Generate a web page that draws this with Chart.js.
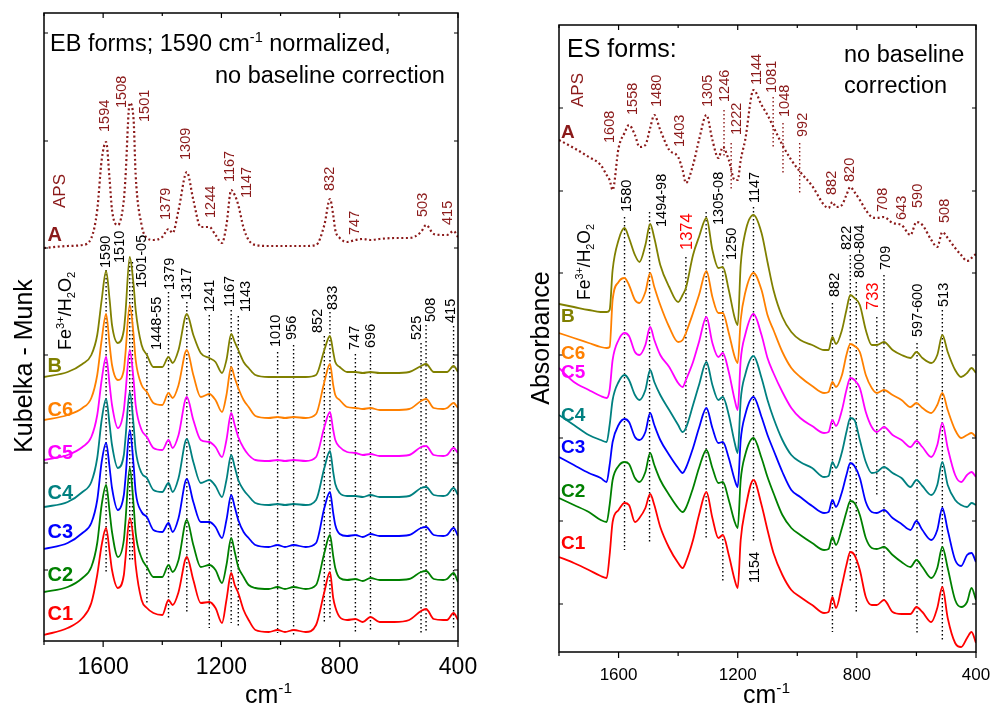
<!DOCTYPE html>
<html>
<head>
<meta charset="utf-8">
<script src="https://cdn.jsdelivr.net/npm/chart.js@4.4.1/dist/chart.umd.min.js"></script>
<style>
  html, body { margin: 0; padding: 0; background: #fff; }
  #wrap { position: relative; width: 991px; height: 706px; overflow: hidden; }
  #leftChart { position: absolute; left: 0; top: 0; }
  #rightChart { position: absolute; left: 500px; top: 0; }
</style>
</head>
<body>
<div id="wrap">
  <canvas id="leftChart" width="500" height="706"></canvas>
  <canvas id="rightChart" width="491" height="706"></canvas>
</div>
<script>
// ---- EB forms (left panel), Kubelka-Munk, curves stacked with offsets ----
const ebWn = [1800, 1720, 1670, 1640, 1620, 1605, 1590, 1578, 1570, 1550,
  1530, 1525, 1510, 1497, 1490, 1470, 1452, 1430, 1400, 1379,
  1365, 1345, 1317, 1295, 1270, 1241, 1220, 1198, 1183, 1167,
  1155, 1143, 1125, 1108, 1085, 1040, 1010, 985, 956, 915,
  880, 852, 833, 822, 815, 800, 775, 747, 722, 696,
  665, 615, 565, 525, 508, 482, 450, 437, 415, 400];
const ebA = [393, 395, 396, 403, 431, 481, 499, 461, 431, 416,
  441, 461, 538, 521, 466, 416, 403, 401, 404, 412,
  408, 431, 469, 441, 414, 414, 406, 398, 416, 451,
  446, 436, 413, 401, 396, 395, 395, 395, 395, 395,
  396, 416, 442, 426, 411, 403, 399, 401, 402, 401,
  402, 403, 403, 409, 416, 407, 406, 406, 410, 404];
const ebB = [264, 269, 277, 286, 306, 341, 370, 341, 316, 298,
  311, 326, 384, 356, 331, 296, 286, 274, 274, 284,
  278, 291, 327, 306, 288, 283, 279, 268, 281, 307,
  299, 291, 279, 273, 266, 264, 264, 264, 264, 264,
  266, 291, 305, 289, 279, 274, 269, 269, 268, 269,
  268, 268, 269, 275, 277, 269, 269, 269, 275, 269];
const ebC6 = [221, 226, 233, 243, 266, 301, 327, 296, 276, 261,
  271, 286, 336, 306, 281, 256, 249, 238, 236, 248,
  243, 256, 291, 266, 244, 247, 241, 229, 246, 274,
  263, 253, 241, 234, 225, 223, 224, 223, 224, 223,
  227, 259, 277, 256, 246, 241, 234, 233, 232, 233,
  231, 231, 232, 240, 242, 233, 232, 233, 238, 233];
const ebC5 = [181, 186, 194, 204, 226, 261, 284, 256, 236, 213,
  231, 246, 291, 261, 236, 211, 204, 193, 191, 201,
  193, 206, 244, 221, 201, 199, 194, 184, 201, 228,
  216, 204, 193, 186, 181, 180, 181, 180, 181, 180,
  184, 214, 229, 211, 201, 194, 189, 188, 186, 187,
  185, 185, 186, 194, 195, 186, 185, 186, 193, 188];
const ebC4 = [134, 139, 149, 159, 183, 221, 242, 216, 196, 173,
  186, 201, 249, 216, 191, 168, 163, 151, 149, 158,
  149, 163, 202, 179, 158, 161, 155, 144, 161, 186,
  174, 161, 151, 145, 138, 136, 137, 136, 137, 136,
  141, 173, 190, 169, 157, 148, 145, 145, 144, 146,
  144, 144, 145, 153, 154, 146, 145, 146, 153, 146];
const ebC3 = [92, 98, 108, 118, 141, 179, 198, 173, 153, 131,
  146, 161, 211, 176, 149, 129, 124, 111, 109, 118,
  109, 123, 162, 139, 119, 119, 114, 103, 121, 146,
  134, 121, 109, 103, 96, 94, 96, 94, 96, 94,
  98, 133, 149, 128, 116, 107, 105, 106, 104, 107,
  105, 105, 106, 113, 114, 106, 105, 106, 113, 105];
const ebC2 = [49, 54, 63, 74, 98, 136, 156, 129, 109, 84,
  101, 118, 173, 136, 108, 83, 74, 64, 64, 76,
  69, 81, 121, 96, 74, 76, 71, 58, 76, 103,
  89, 74, 64, 56, 53, 52, 54, 52, 54, 52,
  56, 88, 106, 85, 73, 63, 61, 62, 60, 63,
  61, 61, 62, 69, 70, 62, 61, 62, 68, 59];
const ebC1 = [6, 13, 23, 38, 66, 96, 113, 89, 71, 53,
  66, 81, 123, 101, 76, 41, 33, 28, 26, 41,
  36, 49, 84, 61, 38, 39, 33, 18, 41, 68,
  56, 48, 31, 21, 11, 9, 11, 9, 11, 9,
  16, 49, 69, 43, 34, 24, 21, 22, 19, 24,
  19, 19, 21, 30, 32, 22, 21, 21, 28, 21];
const ebYTicks = [71, 178, 286, 393, 500, 608];
// dotted band markers: position, top and bottom of each line
const ebMarkWn = [1590, 1510, 1501, 1452, 1379, 1317, 1241, 1167, 1143, 1010, 956, 852, 833, 747, 696, 525, 508, 415];
const ebMarkTop = [371, 379, 379, 288, 349, 339, 326, 331, 325, 289, 296, 305, 329, 287, 289, 298, 316, 315];
const ebMarkBottom = [69, 81, 81, 38, 23, 28, 13, 18, 14, 8, 4, 18, 21, 9, 9, 8, 8, 11];

// ---- ES forms (right panel), absorbance ----
const esWn = [1800, 1750, 1700, 1660, 1640, 1630, 1620, 1600, 1580, 1565,
  1545, 1530, 1510, 1494, 1480, 1460, 1430, 1400, 1385, 1374,
  1350, 1330, 1305, 1285, 1265, 1250, 1230, 1210, 1200, 1190,
  1175, 1147, 1120, 1100, 1080, 1050, 1020, 990, 950, 910,
  895, 882, 870, 850, 835, 822, 808, 790, 770, 750,
  733, 709, 680, 650, 620, 600, 580, 550, 530, 513,
  495, 470, 450, 430, 415, 400];
const esA = [512, 504, 495, 487, 477, 472, 462, 504, 519, 527,
  517, 505, 507, 524, 537, 522, 502, 495, 482, 469,
  487, 512, 537, 512, 494, 505, 492, 472, 472, 492,
  512, 562, 547, 537, 525, 507, 492, 480, 466, 447,
  444, 450, 445, 447, 457, 465, 460, 452, 442, 435,
  434, 435, 429, 427, 417, 430, 427, 412, 405, 420,
  414, 404, 397, 391, 394, 398];
const esB = [348, 345, 342, 340, 340, 342, 382, 412, 424, 414,
  397, 390, 407, 428, 414, 387, 365, 350, 357, 364,
  397, 415, 434, 402, 384, 385, 362, 334, 327, 387,
  419, 437, 419, 390, 362, 335, 320, 312, 307, 302,
  302, 315, 308, 322, 342, 357, 354, 347, 322, 307,
  307, 310, 302, 297, 294, 300, 294, 289, 297, 317,
  300, 282, 275, 279, 284, 279];
const esC6 = [319, 314, 309, 305, 304, 305, 352, 370, 374, 367,
  352, 349, 360, 379, 365, 347, 325, 310, 312, 319,
  339, 357, 381, 355, 339, 339, 319, 295, 289, 332,
  359, 379, 362, 337, 322, 300, 284, 275, 266, 259,
  260, 270, 265, 277, 297, 308, 306, 300, 277, 264,
  259, 262, 257, 252, 245, 249, 244, 239, 247, 259,
  242, 222, 214, 217, 219, 215];
const esC5 = [284, 270, 262, 256, 254, 262, 292, 312, 319, 316,
  300, 297, 307, 325, 312, 297, 285, 269, 265, 272,
  290, 310, 335, 309, 295, 299, 280, 252, 242, 292,
  317, 338, 317, 294, 279, 260, 244, 234, 226, 219,
  220, 232, 226, 242, 262, 274, 272, 264, 240, 225,
  220, 225, 217, 212, 205, 211, 205, 195, 207, 229,
  204, 177, 170, 177, 180, 175];
const esC4 = [237, 227, 217, 212, 210, 227, 252, 270, 277, 272,
  257, 252, 262, 282, 270, 257, 242, 227, 220, 224,
  247, 267, 290, 267, 252, 255, 237, 209, 199, 252,
  277, 296, 274, 252, 234, 212, 197, 190, 184, 175,
  176, 190, 184, 200, 220, 234, 232, 212, 190, 179,
  180, 185, 179, 174, 165, 172, 166, 157, 167, 190,
  167, 152, 147, 145, 149, 147];
const esC3 = [195, 187, 179, 174, 170, 187, 210, 227, 233, 230,
  215, 212, 220, 239, 227, 212, 197, 184, 179, 184,
  204, 224, 244, 224, 209, 210, 194, 172, 165, 212,
  237, 255, 235, 217, 202, 180, 162, 155, 146, 139,
  140, 152, 145, 160, 177, 189, 186, 174, 150, 140,
  139, 142, 134, 128, 122, 131, 122, 112, 122, 144,
  122, 92, 86, 97, 99, 90];
const esC2 = [154, 147, 140, 132, 130, 147, 172, 186, 190, 188,
  174, 170, 180, 199, 187, 172, 157, 144, 140, 144,
  164, 184, 202, 184, 169, 170, 152, 130, 124, 172,
  197, 214, 194, 175, 159, 137, 124, 117, 109, 102,
  103, 115, 107, 124, 140, 151, 149, 137, 114, 104,
  103, 105, 97, 90, 85, 92, 85, 74, 84, 105,
  84, 52, 45, 50, 64, 52];
const esC1 = [95, 89, 82, 76, 74, 97, 130, 142, 149, 147,
  130, 134, 144, 158, 147, 125, 104, 89, 84, 90,
  112, 137, 160, 134, 114, 117, 97, 72, 64, 112,
  142, 172, 147, 122, 99, 77, 62, 55, 47, 39,
  40, 55, 44, 67, 87, 100, 97, 82, 55, 47,
  47, 52, 40, 38, 38, 45, 40, 30, 44, 65,
  34, 9, 5, 14, 20, 9];
const esYTicks = [48, 131, 214, 297, 379, 461, 544];
const esMarkWn = [1580, 1496, 1374, 1306, 1250, 1147, 882, 822, 802, 733, 709, 598, 513];
const esMarkTop = [435, 440, 395, 440, 397, 445, 349, 397, 370, 335, 377, 309, 342];
const esMarkBottom = [102, 110, 214, 112, 70, 109, 20, 69, 39, 155, 49, 17, 12];
const esApsMarkWn = [1246, 1222, 1081, 1048, 992];
const esApsMarkTop = [542, 509, 555, 529, 509];
const esApsMarkBottom = [495, 462, 505, 477, 459];

const xTickValues = [1800, 1600, 1400, 1200, 1000, 800, 600, 400];

// band labels: text, x position (cm-1), y of the text start
const ebApsLabels = [['1594', 1594, 509], ['1508', 1536, 533], ['1501', 1458, 519], ['1379', 1387, 421],
  ['1309', 1320, 481], ['1244', 1235, 423], ['1167', 1171, 459], ['1147', 1113, 443],
  ['832', 833, 450], ['747', 748, 406], ['503', 518, 424], ['415', 434, 416]];
const ebBandLabels = [['1590', 1590, 373], ['1510', 1543, 378], ['1501-05', 1469, 353], ['1448-55', 1418, 291],
  ['1379', 1374, 351], ['1317', 1316, 341], ['1241', 1239, 329], ['1167', 1171, 334], ['1143', 1117, 329],
  ['1010', 1015, 294], ['956', 961, 301], ['852', 873, 308], ['833', 823, 331], ['747', 748, 291],
  ['696', 694, 293], ['525', 539, 301], ['508', 491, 319], ['415', 424, 318]];
const esApsLabels = [['1608', 1629, 509], ['1558', 1552, 537], ['1480', 1471, 545], ['1403', 1394, 505],
  ['1305', 1300, 545], ['1246', 1243, 550], ['1222', 1202, 517], ['1144', 1135, 567], ['1081', 1085, 559],
  ['1048', 1041, 535], ['992', 981, 515], ['882', 884, 457], ['820', 823, 470], ['708', 712, 440],
  ['643', 649, 432], ['590', 595, 444], ['508', 504, 429]];
const esBandLabels = [['1580', 1572, 440], ['1494-98', 1454, 425], ['1305-08', 1263, 427], ['1250', 1219, 392],
  ['1147', 1142, 449], ['1154', 1142, 69], ['882', 873, 355], ['822', 833, 402], ['800-804', 790, 374],
  ['709', 702, 382], ['597-600', 595, 315], ['513', 508, 345]];
const esRedLabels = [['1374', 1370, 402], ['733', 743, 342]];

const FONT = "'Liberation Sans', Arial, sans-serif";
const APS = '#8B1A1A';
const COLORS = { B: '#808000', C6: '#FF8000', C5: '#FF00FF', C4: '#008080', C3: '#0000FF', C2: '#008000', C1: '#FF0000' };

function series(wn, vals, color, dotted) {
  return {
    data: wn.map((x, i) => ({ x: x, y: vals[i] })),
    borderColor: color,
    borderWidth: dotted ? 2.2 : 1.8,
    borderDash: dotted ? [2, 2.6] : [],
    pointRadius: 0,
    cubicInterpolationMode: 'monotone',
    fill: false
  };
}

function markLines(wn, top, bottom, color) {
  const data = [];
  wn.forEach((x, i) => {
    data.push({ x: x, y: top[i] }, { x: x, y: bottom[i] }, { x: x, y: null });
  });
  return { data, borderColor: color, borderWidth: 1.4, borderDash: [1.5, 2.5], pointRadius: 0, tension: 0, spanGaps: false };
}

function richText(ctx, parts, x, y, size) {
  let cx = x;
  parts.forEach(([t, m]) => {
    const s = m ? size * 0.62 : size;
    ctx.font = s + 'px ' + FONT;
    const dy = m === 1 ? -size * 0.4 : (m === -1 ? size * 0.22 : 0);
    ctx.fillText(t, cx, y + dy);
    cx += ctx.measureText(t).width;
  });
}

const FE = [['Fe', 0], ['3+', 1], ['/H', 0], ['2', -1], ['O', 0], ['2', -1]];

const decor = {
  id: 'decor',
  afterDatasetsDraw(chart, args, o) {
    const { ctx, chartArea: ca, scales: { x, y } } = chart;
    ctx.save();
    ctx.strokeStyle = '#000';
    ctx.fillStyle = '#000';
    ctx.lineWidth = 1.5;
    ctx.strokeRect(ca.left, ca.top, ca.right - ca.left, ca.bottom - ca.top);
    ctx.lineWidth = 1.2;
    ctx.beginPath();
    xTickValues.forEach(v => {
      const px = x.getPixelForValue(v);
      const len = v % 400 === 0 ? 6 : 4;
      ctx.moveTo(px, ca.bottom); ctx.lineTo(px, ca.bottom + len);
      ctx.moveTo(px, ca.top); ctx.lineTo(px, ca.top + len - 1);
    });
    o.yTicks.forEach(v => {
      const py = y.getPixelForValue(v);
      ctx.moveTo(ca.left, py); ctx.lineTo(ca.left + 4, py);
      ctx.moveTo(ca.right, py); ctx.lineTo(ca.right - 4, py);
    });
    ctx.stroke();

    // rotated band labels
    o.vLabels.forEach(g => {
      ctx.fillStyle = g.color;
      ctx.font = g.size + 'px ' + FONT;
      ctx.textAlign = 'left';
      ctx.textBaseline = 'middle';
      g.list.forEach(([t, wn, h]) => {
        ctx.save();
        ctx.translate(x.getPixelForValue(wn), y.getPixelForValue(h));
        ctx.rotate(-Math.PI / 2);
        ctx.fillText(t, 0, 0);
        ctx.restore();
      });
    });

    // Fe3+/H2O2
    ctx.save();
    ctx.fillStyle = '#000';
    ctx.textAlign = 'left';
    ctx.textBaseline = 'alphabetic';
    ctx.translate(x.getPixelForValue(o.fe[0]), y.getPixelForValue(o.fe[1]));
    ctx.rotate(-Math.PI / 2);
    richText(ctx, FE, 0, o.fe[2] * 0.36, o.fe[2]);
    ctx.restore();

    // series names
    ctx.textAlign = 'left';
    ctx.textBaseline = 'middle';
    o.names.forEach(([t, h, c]) => {
      ctx.fillStyle = c;
      ctx.font = 'bold ' + o.nameSize + 'px ' + FONT;
      ctx.fillText(t, x.getPixelForValue(o.nameX), y.getPixelForValue(h));
    });

    // y axis title
    ctx.save();
    ctx.fillStyle = '#000';
    ctx.font = '25px ' + FONT;
    ctx.textAlign = 'center';
    ctx.textBaseline = 'middle';
    ctx.translate(o.yTitle[1], o.yTitle[2]);
    ctx.rotate(-Math.PI / 2);
    ctx.fillText(o.yTitle[0], 0, 0);
    ctx.restore();

    // x axis title cm-1
    ctx.fillStyle = '#000';
    ctx.textAlign = 'left';
    ctx.textBaseline = 'alphabetic';
    richText(ctx, [['cm', 0], ['-1', 1]], o.xTitle[0], o.xTitle[1], 25);

    // headings
    o.heads.forEach(([parts, hx, hy, s]) => richText(ctx, parts, hx, hy, s));
    ctx.restore();
  }
};

function makeChart(id, datasets, pad, axisH, tickSize, ymax, deco) {
  return new Chart(document.getElementById(id), {
    type: 'line',
    data: { datasets },
    options: {
      responsive: false,
      animation: false,
      layout: { padding: pad, autoPadding: false },
      plugins: { legend: { display: false }, tooltip: { enabled: false }, decor: deco },
      scales: {
        x: {
          type: 'linear', reverse: true, min: 400, max: 1800,
          afterBuildTicks: ax => { ax.ticks = xTickValues.map(v => ({ value: v })); },
          afterFit: ax => { ax.height = axisH; ax.paddingLeft = 0; ax.paddingRight = 0; },
          grid: { display: false, drawTicks: false },
          border: { display: false },
          ticks: {
            autoSkip: false, maxRotation: 0, padding: 13, color: '#000',
            font: { family: FONT, size: tickSize },
            callback: v => (v % 400 === 0 ? String(v) : '')
          }
        },
        y: { display: false, min: 0, max: ymax }
      }
    },
    plugins: [decor]
  });
}

makeChart('leftChart', [
  series(ebWn, ebA, APS, true),
  series(ebWn, ebB, COLORS.B),
  series(ebWn, ebC6, COLORS.C6),
  series(ebWn, ebC5, COLORS.C5),
  series(ebWn, ebC4, COLORS.C4),
  series(ebWn, ebC3, COLORS.C3),
  series(ebWn, ebC2, COLORS.C2),
  series(ebWn, ebC1, COLORS.C1),
  markLines(ebMarkWn, ebMarkTop, ebMarkBottom, '#000')
], { left: 44, right: 42, top: 13, bottom: 0 }, 65, 23, 628, {
  yTicks: ebYTicks,
  vLabels: [
    { list: ebApsLabels, color: APS, size: 14.5 },
    { list: [['APS', 1746, 433]], color: APS, size: 17 },
    { list: ebBandLabels, color: '#000', size: 14.5 }
  ],
  fe: [1729, 291, 18],
  nameX: 1788, nameSize: 20,
  names: [['A', 406, APS], ['B', 275, COLORS.B], ['C6', 231, COLORS.C6], ['C5', 188, COLORS.C5],
    ['C4', 148, COLORS.C4], ['C3', 109, COLORS.C3], ['C2', 66, COLORS.C2], ['C1', 27, COLORS.C1]],
  yTitle: ['Kubelka - Munk', 25, 366],
  xTitle: [245, 703],
  heads: [
    [[['EB forms; 1590 cm', 0], ['-1', 1], [' normalized,', 0]], 50, 51, 23.5],
    [[['no baseline correction', 0]], 215, 83, 23.5]
  ]
});

makeChart('rightChart', [
  series(esWn, esA, APS, true),
  series(esWn, esB, COLORS.B),
  series(esWn, esC6, COLORS.C6),
  series(esWn, esC5, COLORS.C5),
  series(esWn, esC4, COLORS.C4),
  series(esWn, esC3, COLORS.C3),
  series(esWn, esC2, COLORS.C2),
  series(esWn, esC1, COLORS.C1),
  markLines(esMarkWn, esMarkTop, esMarkBottom, '#000'),
  markLines(esApsMarkWn, esApsMarkTop, esApsMarkBottom, APS)
], { left: 59, right: 15, top: 25, bottom: 0 }, 54, 17, 627, {
  yTicks: esYTicks,
  vLabels: [
    { list: esApsLabels, color: APS, size: 14.5 },
    { list: [['APS', 1736, 545]], color: APS, size: 17 },
    { list: esBandLabels, color: '#000', size: 14.5 },
    { list: esRedLabels, color: '#FF0000', size: 16.5 }
  ],
  fe: [1716, 352, 17.5],
  nameX: 1793, nameSize: 19,
  names: [['A', 519, APS], ['B', 335, COLORS.B], ['C6', 298, COLORS.C6], ['C5', 279, COLORS.C5],
    ['C4', 236, COLORS.C4], ['C3', 204, COLORS.C3], ['C2', 160, COLORS.C2], ['C1', 108, COLORS.C1]],
  yTitle: ['Absorbance', 42, 338],
  xTitle: [243, 703],
  heads: [
    [[['ES forms:', 0]], 67, 57, 25],
    [[['no baseline', 0]], 344, 62, 23.5],
    [[['correction', 0]], 344, 93, 23.5]
  ]
});
</script>
</body>
</html>
